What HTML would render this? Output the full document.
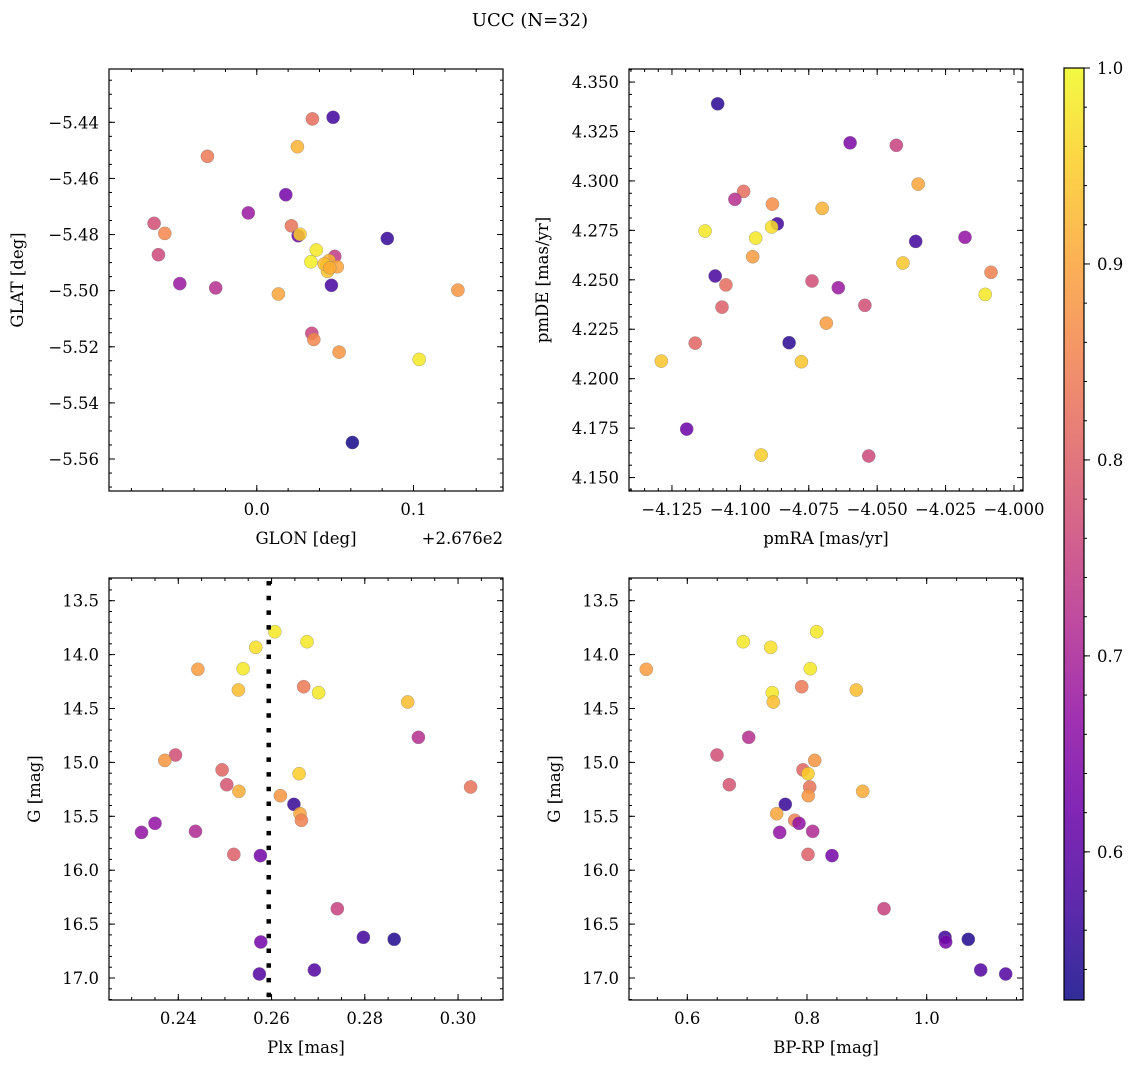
<!DOCTYPE html>
<html><head><meta charset="utf-8"><style>
html,body{margin:0;padding:0;background:#fff;overflow:hidden;}
svg{display:block;font-family:"DejaVu Serif","Liberation Serif",serif;}
</style></head><body>
<svg id="fig" width="1136" height="1068" viewBox="0 0 1136 1068" xmlns="http://www.w3.org/2000/svg">
<defs><linearGradient id="plasmaGrad" x1="0" y1="1" x2="0" y2="0"></linearGradient></defs>
<text x="530" y="26" font-size="18" text-anchor="middle">UCC (N=32)</text>
</svg>
<script>
// ---- data ----
const glon = [0.0355,0.0487,0.0259,-0.0315,0.0185,-0.0054,-0.0655,-0.0587,0.0221,0.0264,0.0276,0.0833,-0.0628,0.0380,0.0498,0.0345,0.0461,0.0514,0.0447,0.0451,-0.0491,-0.0262,0.0476,0.0138,0.1283,0.0351,0.0364,0.0525,0.1036,0.0610,0.0430,0.0466];
const glat = [-5.4388,-5.4382,-5.4487,-5.4521,-5.4658,-5.4723,-5.4760,-5.4796,-5.4769,-5.4804,-5.4799,-5.4814,-5.4872,-5.4855,-5.4878,-5.4897,-5.4893,-5.4915,-5.4911,-5.4931,-5.4975,-5.4990,-5.4981,-5.5012,-5.4998,-5.5152,-5.5174,-5.5219,-5.5245,-5.5541,-5.4905,-5.4919];
const probA = [0.82,0.57,0.92,0.84,0.63,0.68,0.77,0.86,0.83,0.62,0.95,0.56,0.76,0.98,0.74,0.99,0.92,0.90,0.96,0.94,0.68,0.72,0.58,0.90,0.88,0.75,0.86,0.88,0.98,0.53,0.93,0.91];
const pmra = [-4.1083,-4.0599,-4.0430,-4.0350,-4.0988,-4.1020,-4.0883,-4.0701,-4.0865,-4.0886,-4.1129,-4.0944,-4.0359,-4.0179,-4.0955,-4.0406,-4.0084,-4.1092,-4.1053,-4.0738,-4.0642,-4.0105,-4.1067,-4.0545,-4.0686,-4.1165,-4.0822,-4.1289,-4.0777,-4.1196,-4.0924,-4.0531];
const pmde = [4.3390,4.3193,4.3180,4.2984,4.2947,4.2907,4.2883,4.2861,4.2783,4.2767,4.2747,4.2711,4.2694,4.2715,4.2617,4.2585,4.2538,4.2519,4.2474,4.2494,4.2460,4.2426,4.2362,4.2371,4.2281,4.2180,4.2182,4.2089,4.2086,4.1745,4.1614,4.1609];
const probB = [0.55,0.64,0.75,0.90,0.82,0.72,0.87,0.92,0.57,0.97,0.98,0.98,0.57,0.67,0.89,0.94,0.85,0.58,0.82,0.77,0.68,0.98,0.80,0.77,0.89,0.81,0.55,0.94,0.94,0.62,0.95,0.76];
const gmag = [13.788,13.880,13.932,14.136,14.131,14.328,14.298,14.353,14.440,14.767,14.931,14.981,15.070,15.105,15.207,15.268,15.228,15.309,15.389,15.476,15.537,15.565,15.649,15.639,15.853,15.865,16.357,16.622,16.641,16.666,16.926,16.963];
const plx = [0.2607,0.2676,0.2566,0.2442,0.2539,0.2529,0.2669,0.2701,0.2892,0.2915,0.2394,0.2371,0.2494,0.2659,0.2504,0.2530,0.3027,0.2619,0.2648,0.2661,0.2664,0.2350,0.2321,0.2437,0.2519,0.2576,0.2741,0.2797,0.2863,0.2577,0.2692,0.2574];
const bprp = [0.8162,0.6936,0.7393,0.5315,0.8055,0.8824,0.7911,0.7420,0.7437,0.7026,0.6496,0.8129,0.7933,0.8017,0.6702,0.8931,0.8045,0.8022,0.7637,0.7494,0.7795,0.7866,0.7544,0.8095,0.8017,0.8418,0.9287,1.0306,1.0695,1.0317,1.0902,1.1320];
const probC = [0.98,0.98,0.97,0.89,0.98,0.93,0.84,0.98,0.93,0.72,0.77,0.88,0.81,0.95,0.78,0.91,0.83,0.88,0.56,0.90,0.85,0.67,0.67,0.71,0.80,0.63,0.75,0.57,0.54,0.63,0.59,0.59];
const plxCut = [0.2594];
const cbarTicks = [0.6,0.7,0.8,0.9,1.0];
const vmin = 0.5244, vmax = 1.0;

const NS = "http://www.w3.org/2000/svg";
const svg = document.getElementById('fig');
const plasma = [[13,8,135],[65,4,157],[106,0,168],[143,13,164],[177,42,144],[204,71,120],[225,100,98],[242,132,75],[252,166,54],[252,206,37],[240,249,33]];
function cmap(t){t=Math.max(0,Math.min(1,t));const f=t*10,i=Math.min(9,Math.floor(f)),r=f-i;const a=plasma[i],b=plasma[i+1];return 'rgb('+a.map((v,k)=>Math.round(v+(b[k]-v)*r)).join(',')+')';}
function el(tag,attrs,parent){const e=document.createElementNS(NS,tag);for(const k in attrs)e.setAttribute(k,attrs[k]);(parent||svg).appendChild(e);return e;}
function fmt(v,d){const s=v.toFixed(d);return s.replace('-','\u2212');}
const FS=16.5;

function panel(o){
  const g=el('g',{});
  
  
  const sx=v=>o.x0+(v-o.xmin)/(o.xmax-o.xmin)*o.w;
  const sy=v=>o.y0+(v-o.yTop)/(o.yBot-o.yTop)*o.h;
  const ylo=Math.min(o.yTop,o.yBot), yhi=Math.max(o.yTop,o.yBot);
  for(let i=0;i<o.xs.length;i++){
    const c=el('circle',{cx:sx(o.xs[i]).toFixed(1),cy:sy(o.ys[i]).toFixed(1),r:6.6,fill:cmap((o.cs[i]-vmin)/(vmax-vmin)),'fill-opacity':0.85,stroke:'#777','stroke-width':0.5,'stroke-opacity':0.6},g);
    
    
  }
  if(o.vline!==undefined){
    const l=el('line',{x1:sx(o.vline),x2:sx(o.vline),y1:o.y0+3,y2:o.y0+o.h,stroke:'#000','stroke-width':4.5,'stroke-dasharray':'4.5 10.2'},g);
    
    
  }
  el('rect',{x:o.x0,y:o.y0,width:o.w,height:o.h,fill:'none',stroke:'#000','stroke-width':1.2},g);
  const eps=1e-9;
  function ticksX(step,len){const s=Math.ceil(o.xmin/step-eps);for(let k=s;k*step<=o.xmax+eps;k++){const x=sx(k*step);el('line',{x1:x,x2:x,y1:o.y0+o.h,y2:o.y0+o.h-len,stroke:'#000','stroke-width':1},g);el('line',{x1:x,x2:x,y1:o.y0,y2:o.y0+len,stroke:'#000','stroke-width':1},g);}}
  function ticksY(step,len){const s=Math.ceil(ylo/step-eps);for(let k=s;k*step<=yhi+eps;k++){const y=sy(k*step);el('line',{x1:o.x0,x2:o.x0+len,y1:y,y2:y,stroke:'#000','stroke-width':1},g);el('line',{x1:o.x0+o.w,x2:o.x0+o.w-len,y1:y,y2:y,stroke:'#000','stroke-width':1},g);}}
  ticksX(o.xminor,3);ticksX(o.xmajor,6);ticksY(o.yminor,3);ticksY(o.ymajor,6);
  const sX=Math.ceil(o.xmin/o.xmajor-eps);
  for(let k=sX;k*o.xmajor<=o.xmax+eps;k++){const v=k*o.xmajor;const t=el('text',{x:sx(v),y:o.y0+o.h+24,'font-size':FS,'text-anchor':'middle'},g);t.textContent=fmt(Math.abs(v)<1e-9?0:v,o.xdec);
    
    }
  const sY=Math.ceil(ylo/o.ymajor-eps);
  for(let k=sY;k*o.ymajor<=yhi+eps;k++){const v=k*o.ymajor;const t=el('text',{x:o.x0-10,y:sy(v)+6,'font-size':FS,'text-anchor':'end'},g);t.textContent=fmt(v,o.ydec);
    
    }
  const xl=el('text',{x:o.x0+o.w/2,y:o.y0+o.h+53,'font-size':FS,'text-anchor':'middle'},g);xl.textContent=o.xlabel;
  
  
  const yl=el('text',{x:o.ylx,y:o.y0+o.h/2,'font-size':FS,'text-anchor':'middle',transform:'rotate(-90 '+o.ylx+' '+(o.y0+o.h/2)+')'},g);yl.textContent=o.ylabel;
  
  
  if(o.offset){const t=el('text',{x:o.x0+o.w,y:o.y0+o.h+53,'font-size':FS,'text-anchor':'end'},g);t.textContent=o.offset;
    
    }
}

const gTop = 13.5-(600.7-578)/107.8, gBot = 17.0+(1000-978)/107.8;
panel({name:'glon-glat-panel',x0:109,y0:69,w:394,h:422,xmin:-0.0943,xmax:0.1571,yTop:-5.4210,yBot:-5.5714,xs:glon,ys:glat,cs:probA,xmajor:0.1,xminor:0.02,ymajor:0.02,yminor:0.005,xdec:1,ydec:2,xlabel:'GLON [deg]',ylabel:'GLAT [deg]',ylx:23,offset:'+2.676e2'});
panel({name:'pm-panel',x0:629,y0:69,w:394,h:422,xmin:-4.1407,xmax:-3.9967,yTop:4.3566,yBot:4.1432,xs:pmra,ys:pmde,cs:probB,xmajor:0.025,xminor:0.005,ymajor:0.025,yminor:0.00625,xdec:3,ydec:3,xlabel:'pmRA [mas/yr]',ylabel:'pmDE [mas/yr]',ylx:548});
panel({name:'plx-g-panel',x0:109,y0:578,w:394,h:422,xmin:0.22514,xmax:0.30964,yTop:gTop,yBot:gBot,xs:plx,ys:gmag,cs:probC,xmajor:0.02,xminor:0.005,ymajor:0.5,yminor:0.1,xdec:2,ydec:1,xlabel:'Plx [mas]',ylabel:'G [mag]',ylx:40,vline:plxCut[0]});
panel({name:'color-g-panel',x0:629,y0:578,w:394,h:422,xmin:0.6-58.3/598.5,xmax:0.6+(394-58.3)/598.5,yTop:gTop,yBot:gBot,xs:bprp,ys:gmag,cs:probC,xmajor:0.2,xminor:0.05,ymajor:0.5,yminor:0.1,xdec:1,ydec:1,xlabel:'BP-RP [mag]',ylabel:'G [mag]',ylx:560});

// colorbar
const grad=document.getElementById('plasmaGrad');
for(let i=0;i<=10;i++){el('stop',{offset:(i/10),'stop-color':cmap(i/10)},grad);}
const cb=el('g',{});


const cbX=1064,cbW=20,cbY=68,cbH=932;
el('rect',{x:cbX,y:cbY,width:cbW,height:cbH,fill:'url(#plasmaGrad)','fill-opacity':0.85},cb);
el('rect',{x:cbX,y:cbY,width:cbW,height:cbH,fill:'none',stroke:'#000','stroke-width':1.2},cb);
const cby=v=>cbY+cbH-(v-vmin)/(vmax-vmin)*cbH;
for(let k=Math.ceil(vmin/0.02);k*0.02<=vmax+1e-9;k++){const y=cby(k*0.02);el('line',{x1:cbX+cbW,x2:cbX+cbW+3,y1:y,y2:y,stroke:'#000','stroke-width':1},cb);}
cbarTicks.forEach(v=>{const y=cby(v);el('line',{x1:cbX+cbW,x2:cbX+cbW+6,y1:y,y2:y,stroke:'#000','stroke-width':1},cb);
  const t=el('text',{x:cbX+cbW+13,y:y+6,'font-size':FS},cb);t.textContent=v.toFixed(1);
  
  });
</script>
</body></html>
